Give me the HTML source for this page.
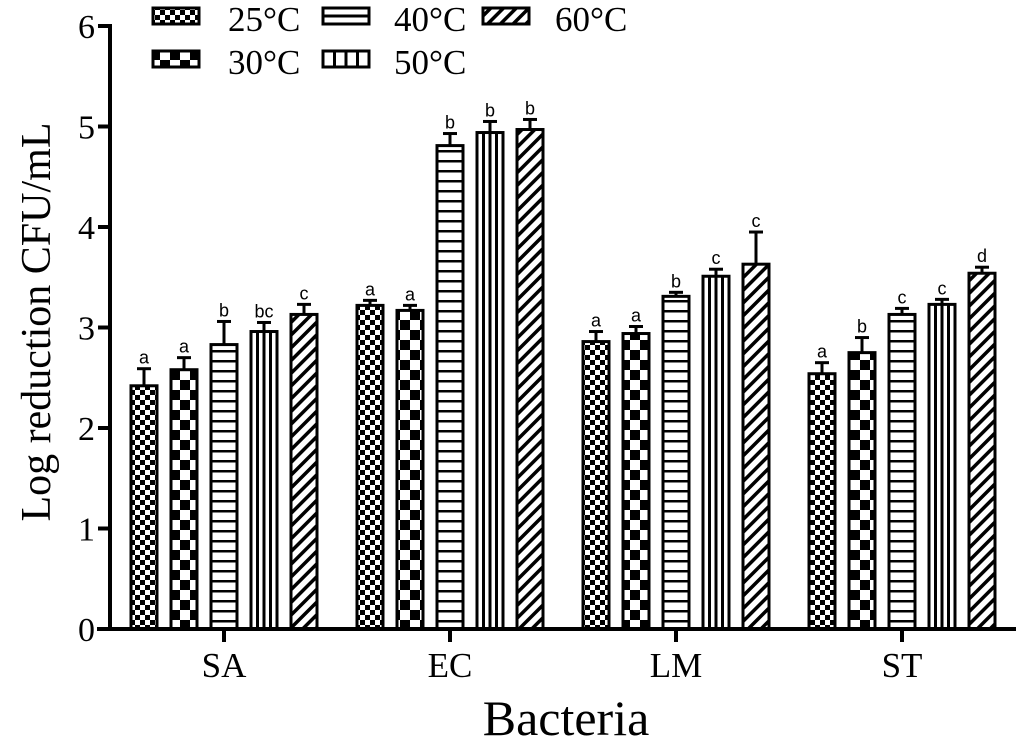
<!DOCTYPE html>
<html><head><meta charset="utf-8"><style>
body{margin:0;background:#fff}
svg text{font-family:"Liberation Serif",serif;fill:#000}
</style></head><body>
<svg width="1024" height="745" viewBox="0 0 1024 745" xmlns="http://www.w3.org/2000/svg">
<defs>
<pattern id="p25" width="10" height="10" patternUnits="userSpaceOnUse"><rect width="10" height="10" fill="#fff"/><rect width="5" height="5" fill="#000"/><rect x="5" y="5" width="5" height="5" fill="#000"/></pattern>
<pattern id="p30" width="20" height="20" patternUnits="userSpaceOnUse"><rect width="20" height="20" fill="#fff"/><rect width="10" height="10" fill="#000"/><rect x="10" y="10" width="10" height="10" fill="#000"/></pattern>
<pattern id="p40" width="10" height="10" patternUnits="userSpaceOnUse"><rect width="10" height="10" fill="#fff"/><rect y="0" width="10" height="2.5" fill="#000"/></pattern>
<pattern id="p50" width="10" height="10" patternUnits="userSpaceOnUse"><rect width="10" height="10" fill="#fff"/></pattern>
<pattern id="p60" width="9" height="9" patternUnits="userSpaceOnUse" patternTransform="rotate(45)"><rect width="9" height="9" fill="#fff"/><rect width="3.5" height="9" fill="#000"/></pattern>
</defs>
<g id="plot"></g>
</svg>
<script>
const categories=["SA","EC","LM","ST"];
const seriesNames=["25°C","30°C","40°C","50°C","60°C"];
const v25=[2.42,3.22,2.86,2.54];
const v30=[2.58,3.17,2.94,2.75];
const v40=[2.83,4.81,3.31,3.13];
const v50=[2.96,4.94,3.51,3.23];
const v60=[3.13,4.97,3.63,3.54];
const e25=[0.17,0.05,0.10,0.11];
const e30=[0.12,0.05,0.07,0.15];
const e40=[0.23,0.12,0.04,0.06];
const e50=[0.09,0.11,0.07,0.05];
const e60=[0.10,0.10,0.32,0.06];
const l25=["a","a","a","a"];
const l30=["a","a","a","b"];
const l40=["b","b","b","c"];
const l50=["bc","b","c","c"];
const l60=["c","b","c","d"];
const yTicks=[0,1,2,3,4,5,6];
const vals=[v25,v30,v40,v50,v60],errs=[e25,e30,e40,e50,e60],labs=[l25,l30,l40,l50,l60];
const pats=["p25","p30","p40","p50","p60"];
const NS="http://www.w3.org/2000/svg";
const g=document.getElementById("plot");
const y=v=>629-v*100.5;
const gx=i=>224+i*226;
const bx=(i,s)=>gx(i)+(s-2)*40;
function mk(t,a,p){const e=document.createElementNS(NS,t);for(const k in a)e.setAttribute(k,a[k]);(p||g).appendChild(e);return e;}
function drawSwatch(s,x,yy,w,h,name,legend){
  const pat=(legend&&s===2)?"p50":pats[s];
  const r=mk("rect",{x:x,y:yy,width:w,height:h,fill:"url(#"+pat+")",stroke:"#000","stroke-width":3});
  
  
  if(s===3){for(let k=1;k<4;k++){mk("line",{x1:x+w*k/4,x2:x+w*k/4,y1:yy,y2:yy+h,stroke:"#000","stroke-width":3});}}
  if(legend&&s===2){mk("line",{x1:x,x2:x+w,y1:yy+h/2,y2:yy+h/2,stroke:"#000","stroke-width":3});}
}
for(let s=0;s<5;s++){for(let i=0;i<4;i++){
  const v=vals[s][i],x=bx(i,s)-13,top=y(v);
  const eb=mk("line",{x1:x+13,x2:x+13,y1:top,y2:y(v+errs[s][i]),stroke:"#000","stroke-width":3});
  
  
  mk("line",{x1:x+6,x2:x+20,y1:y(v+errs[s][i]),y2:y(v+errs[s][i]),stroke:"#000","stroke-width":3});
  drawSwatch(s,x,top,26,629-top,'bar-'+categories[i].toLowerCase()+'-'+s,false);
  const t=mk("text",{x:x+13,y:y(v+errs[s][i])-5,"text-anchor":"middle","font-size":18,style:"font-family:'Liberation Sans',sans-serif"});
  t.textContent=labs[s][i];
  
  
}}
const ya=mk("line",{x1:110,x2:110,y1:24,y2:631,stroke:"#000","stroke-width":4});


const xa=mk("line",{x1:97,x2:1016,y1:629,y2:629,stroke:"#000","stroke-width":4});


yTicks.forEach(v=>{
  mk("line",{x1:98,x2:110,y1:y(v),y2:y(v),stroke:"#000","stroke-width":4});
  const t=mk("text",{x:95,y:y(v)+12,"text-anchor":"end","font-size":34});
  t.textContent=v;
  
  
});
categories.forEach((c,i)=>{
  mk("line",{x1:gx(i),x2:gx(i),y1:629,y2:642,stroke:"#000","stroke-width":4});
  const t=mk("text",{x:gx(i),y:677,"text-anchor":"middle","font-size":35});
  t.textContent=c;
  
  
});
let t=mk("text",{x:566,y:735,"text-anchor":"middle","font-size":50});t.textContent="Bacteria";


t=mk("text",{x:0,y:0,"text-anchor":"middle","font-size":42,transform:"translate(50,322) rotate(-90)"});t.textContent="Log reduction CFU/mL";


const lp=[[153,8,228,31],[153,51,228,74],[323,8,394,31],[323,51,394,74],[483,8,555,31]];
lp.forEach((p,s)=>{
  drawSwatch(s,p[0],p[1],46,16,'legend-swatch-'+s,true);
  const tt=mk("text",{x:p[2],y:p[3],"font-size":35});tt.textContent=seriesNames[s];
  
  
});
</script>
</body></html>
